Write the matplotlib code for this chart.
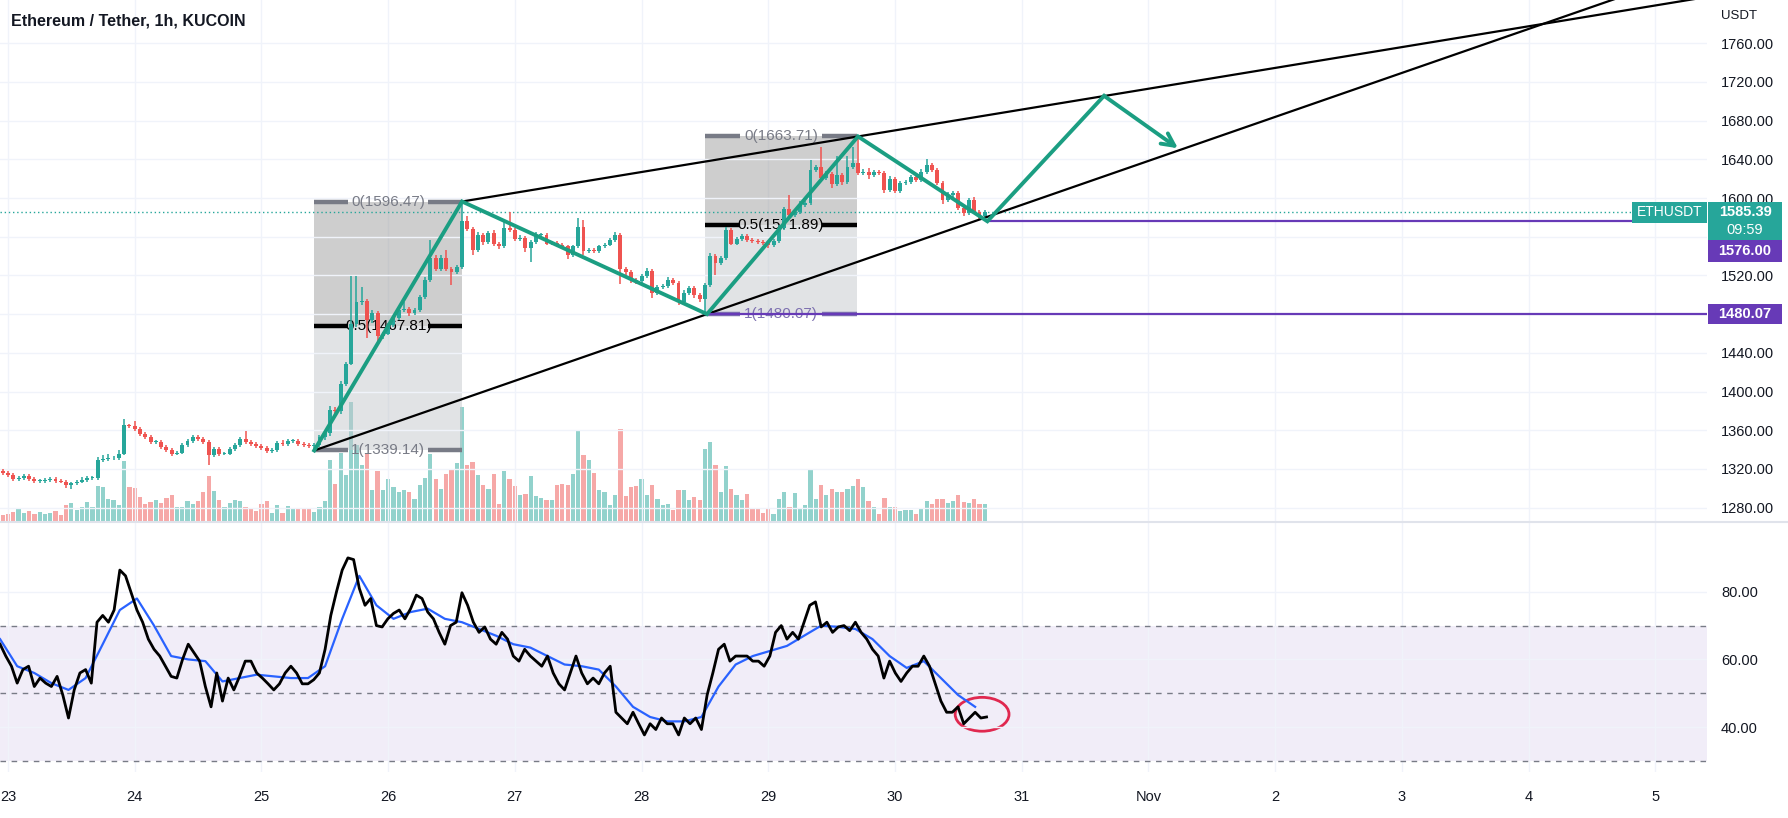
import numpy as np
import matplotlib
matplotlib.use('Agg')
import matplotlib.pyplot as plt
from matplotlib.patches import Rectangle, Ellipse

plt.rcParams['font.family'] = ['Liberation Sans', 'DejaVu Sans']

W, H = 1788, 818

# hourly candles, hour 0 = 23 Oct 00:00
first_hour = -1
first_open = 1318
closes = [1316, 1314, 1310, 1311, 1313, 1310, 1308, 1308, 1308.5, 1310,
          1308, 1307, 1303, 1305, 1307, 1309, 1311, 1311, 1329, 1330,
          1331, 1331, 1336, 1365, 1364, 1361, 1356, 1353, 1348, 1348,
          1343, 1340, 1336, 1337, 1345, 1349, 1353, 1351, 1348, 1334,
          1341, 1336, 1336, 1341, 1345, 1351, 1348, 1346, 1344, 1342,
          1339, 1340, 1347, 1346, 1349, 1349, 1346, 1345, 1344,
          1345, 1353, 1357, 1381, 1380, 1408, 1429, 1470, 1493, 1494,
          1474, 1481, 1457, 1460, 1469, 1476, 1484, 1485, 1481, 1484,
          1498, 1515, 1538, 1527, 1538, 1527, 1524, 1529, 1576, 1568,
          1546, 1562, 1555, 1564, 1553,
          1550, 1569, 1567, 1558, 1559, 1548, 1555, 1562, 1562, 1553,
          1554, 1552, 1550, 1541, 1550, 1570, 1545, 1546, 1545, 1550,
          1552, 1557, 1562, 1527, 1524, 1515, 1514, 1519, 1525, 1502,
          1508, 1509, 1515, 1512, 1493, 1502, 1507, 1500, 1496, 1510,
          1540, 1533, 1538, 1567, 1553, 1558, 1561,
          1557, 1556, 1555, 1554, 1551.5, 1556, 1568.7, 1589, 1582.5, 1586,
          1593, 1595, 1629, 1632.5, 1620.4, 1625, 1615, 1624, 1617, 1632.5,
          1636, 1625.6, 1627, 1624, 1627, 1626, 1608.4, 1619.4, 1607.7, 1615.2,
          1617, 1622, 1619, 1627.3, 1634.2, 1629, 1615.2, 1598, 1603, 1605,
          1589.4, 1585, 1598, 1586, 1581, 1585.39]
upper_wick = [2, 2, 2, 2, 2, 2, 2, 2, 2, 2,
              2, 2, 2, 2, 2, 3, 2, 2, 3, 4,
              5, 2, 4, 7, 2, 6, 2, 2, 2, 2,
              2, 2, 2, 2, 2, 2, 2, 2, 2, 2,
              2, 2, 2, 2, 2, 2, 8, 2, 2, 2,
              2, 2, 2, 3, 2, 2, 2, 2, 2,
              2, 2, 3, 4, 3, 3, 2, 49, 26, 14,
              2, 3, 2, 2, 2, 2, 3, 8, 2, 2,
              2, 3, 19, 3, 3, 8, 2, 2, 20.5, 5,
              2, 3, 2, 2, 3,
              2, 7, 17, 2, 3, 2, 2, 3, 2, 2,
              2, 2, 2, 2, 2, 9, 7, 2, 2, 2,
              2, 2, 3, 2, 2, 2, 2, 3, 3, 2,
              2, 2, 3, 2, 2, 3, 2, 2, 2, 2,
              3, 2, 2, 3.5, 2, 2, 2,
              2, 2, 2, 2, 2, 2, 3, 2, 14, 3,
              4, 2, 10, 2, 20, 3, 2, 19, 2, 10.5,
              17, 27.7, 3, 4, 2, 2, 2, 3, 2, 2,
              2, 2, 3, 3, 6, 2, 2, 2, 3, 2,
              2, 2, 2, 3, 2, 2]
lower_wick = [2, 2, 2, 2, 2, 2, 2, 2, 2, 2,
              2, 2, 3, 4, 2, 2, 2, 2, 2, 2,
              2, 2, 2, 2, 2, 2, 2, 2, 2, 2,
              2, 2, 3, 2, 2, 2, 2, 2, 2, 10,
              2, 3, 2, 2, 2, 2, 2, 2, 2, 2,
              2, 2, 2, 2, 2, 2, 2, 2, 2,
              4.9, 2, 3, 3, 4, 3, 2, 2, 3, 3,
              19, 3, 7, 3, 2, 2, 2, 2, 3, 2,
              2, 2, 2, 2, 2, 2, 14, 2, 2, 2,
              5, 2, 3, 2, 3,
              3, 2, 2, 2, 2, 4, 14, 2, 2, 2,
              2, 2, 2, 4, 2, 2, 4, 2, 2, 2,
              2, 2, 2, 15.5, 3, 3, 3, 2, 2, 5,
              2, 2, 2, 2, 3.5, 2, 2, 3, 3, 15.93,
              2, 12, 2, 2, 2, 2, 2,
              2, 2, 2, 2, 3, 2, 2, 2, 2, 2,
              2, 2, 2, 2, 2, 2, 5, 2, 3, 2,
              2, 2, 2, 4, 2, 2, 3.4, 2, 2, 2,
              2, 2, 2, 2, 2, 2, 2, 4, 2, 2,
              2, 3, 2, 2, 3.6, 2]
volume = [7.3, 8.3, 9.7, 13, 9, 10.7, 8.3, 9.7, 8, 9,
          10.7, 7.3, 16.7, 18.7, 11.7, 14.7, 19.7, 14.7, 35.7, 34.7,
          22.7, 21.7, 17.3, 60.7, 35.3, 34.3, 24.7, 18, 19.7, 22.3,
          19, 24, 26.7, 15.3, 15.3, 20.7, 18, 20.7, 29.7, 45.7,
          31.3, 22.3, 14.7, 19, 22.3, 20.7, 14.7, 13.3, 11.3, 18,
          21.3, 8.7, 17.3, 8.7, 16.3, 13.3, 12.7, 12.7, 13.3, 10,
          15, 20.7, 61.7, 38.3, 69, 47.3, 120, 76.7, 56.7, 68.3,
          31.7, 50.7, 31.7, 43.3, 35, 30, 31.7, 30, 23.3, 37.3,
          44, 68.3, 43.3, 33.3, 48.3, 51.7, 59.3, 115, 56.7, 60,
          47.3, 36.7, 33.3, 48.3,
          18.3, 50.7, 43.3, 35.7, 26.7, 28.3, 45.7, 25.7, 24.3, 22.3,
          22.3, 36.7, 38.3, 36.7, 47.7, 91.7, 67.3, 61.7, 49.3, 32.3,
          30, 16.7, 26.7, 92.7, 25.7, 35, 35.7, 42.7, 26.7, 36.7,
          23.3, 16.7, 17.7, 12.3, 31.7, 32.3, 22.3, 25, 21.7, 73.3,
          80, 56.7, 30, 55.7, 33.3, 27.3, 22.3,
          28.3, 13.7, 13.3, 9.3, 12.7, 7.7, 23.3, 30, 15.3, 28.7,
          14.3, 16.7, 52.7, 22.7, 36.7, 26.7, 33.3, 30, 30, 32.7,
          36, 42.7, 35.3, 21, 15.3, 7.7, 23.7, 15.3, 15.3, 11,
          11.7, 11.7, 7.7, 13.3, 21, 18.3, 23.3, 23.3, 19.3, 21,
          26.7, 20, 19.3, 23.3, 17.7, 17.7]

# RSI (black) and its moving average (blue), sampled along the time axis
rsi_start, rsi_step = -1.5, 1.08
rsi = [64.5, 61, 58, 53, 57, 58, 52, 54.5, 53, 52,
       55, 49.5, 42.7, 51, 56, 57, 53, 71, 73, 71,
       74.6, 86.4, 84.7, 79.7, 74.6, 71, 66, 63, 61, 58,
       55, 54.5, 60, 64.5, 62, 59.5, 52, 46, 56, 47.7,
       54.5, 51, 55, 59.5, 59.5, 56, 54.5, 52.8, 51, 52.8,
       56, 58, 56, 52.8, 52.8, 54, 56, 63, 73, 80,
       86.4, 90, 89.5, 81, 76, 78, 70, 69.6, 72, 73.6,
       74.6, 72, 75, 79, 78, 74, 72, 68, 64.5, 70,
       71, 79.7, 76, 71, 68, 69.6, 66, 64.5, 68, 66,
       61, 59.5, 63, 61, 59.5, 58, 61, 56, 52.8, 51,
       56, 61, 56, 52.8, 54.5, 52.8, 56, 58, 44.4, 42.7,
       41, 44.4, 41, 37.7, 41, 39.3, 42.7, 41, 41, 37.7,
       42.7, 41, 42.7, 39.3, 49.5, 56, 63, 64.5, 59.5, 61,
       61, 61, 59.5, 59.5, 58, 61, 68, 70, 66, 68,
       66, 71, 76, 77, 69.6, 71, 68, 69.6, 70, 68.5,
       71, 68, 66, 63, 61, 54.5, 59.5, 56, 53.5, 56,
       58, 58, 61, 58, 52.8, 47.7, 44.4, 44.4, 46, 41,
       42.7, 44.4, 42.7, 43]
ma_start, ma_step = -1.5, 3.24
rsi_ma = [66, 58, 56, 53, 51, 54.5, 64.5, 74.6, 78, 70,
          61, 60, 59.5, 53.5, 54.5, 55.5, 55, 54.5, 54.5, 58,
          72, 84.7, 76, 72, 74, 75, 72, 71, 69, 67,
          64.5, 63.5, 61, 58.5, 58, 57, 52, 46, 43, 41.7,
          41.7, 43, 52, 58.5, 61, 62.5, 64, 67, 70, 69.6,
          69, 66, 61, 57.5, 59.5, 54.5, 49.5, 46]

# drawings
fib_boxes = [(58, 86, 1596.47, 1339.14), (132, 160.8, 1663.71, 1480.07)]
zigzag_h = [58, 86, 132.4, 161, 185.5, 207.6]
zigzag_p = [1339.14, 1596.47, 1480.07, 1663.71, 1576, 1705.7]
arrow_end = (221.6, 1651.5)
upper_line = [(86, 1596.47), (161, 1663.71)]
lower_line = [(58, 1339.14), (132.4, 1480.07)]
levels = [(1576.00, 185.5), (1480.07, 132)]
last_price = 1585.39

day_labels = ['23', '24', '25', '26', '27', '28', '29', '30', '31', 'Nov', '2', '3', '4', '5']
price_ticks = np.arange(1280, 1761, 40)

up_c, dn_c = '#26a69a', '#ef5350'
purple = '#673ab7'
grid_c = '#f0f3fa'
txt_c = '#131722'
zig_c = '#1b9e82'

hours = np.arange(first_hour, first_hour + len(closes))
closes = np.array(closes)
opens = np.concatenate([[first_open], closes[:-1]])
highs = np.maximum(opens, closes) + np.array(upper_wick)
lows = np.minimum(opens, closes) - np.array(lower_wick)
up = closes >= opens
colors = np.where(up, up_c, dn_c)

fig = plt.figure(figsize=(W / 100, H / 100), dpi=100)
ax_vol = fig.add_axes([0, 1 - 522 / H, 1707 / W, 522 / H])
ax = fig.add_axes([0, 1 - 522 / H, 1707 / W, 522 / H])
ax_rsi = fig.add_axes([0, 1 - 772 / H, 1707 / W, 250 / H])
ax.patch.set_visible(False)

xlim = (-1.515, 321.8)
for a in (ax, ax_vol, ax_rsi):
    a.set_xlim(*xlim)
    for s in a.spines.values():
        s.set_visible(False)
    a.tick_params(length=0)

# volume underneath
ax_vol.bar(hours, volume, width=0.8, color=colors, alpha=0.5, linewidth=0)
ax_vol.set_xticks(np.arange(0, 313, 24))
ax_vol.set_xticklabels([])
ax_vol.set_yticks([])
ax_vol.set_ylim(0, max(volume) * 4.35)
ax_vol.grid(axis='x', color=grid_c, lw=1)

# price pane
ax.set_xticks(np.arange(0, 313, 24))
ax.set_xticklabels([])
ax.set_yticks(price_ticks)
ax.set_yticklabels(['%.2f' % p for p in price_ticks])
ax.set_ylim(1265.2, 1804.75)
ax.yaxis.tick_right()
ax.tick_params(axis='y', labelsize=10.5, labelcolor=txt_c, pad=10)
ax.grid(axis='y', color=grid_c, lw=1)

# fib boxes
for x0, x1, p0, p1 in fib_boxes:
    mid = (p0 + p1) / 2
    ax.add_patch(Rectangle((x0, mid), x1 - x0, p0 - mid, facecolor='#9e9e9e',
                           alpha=0.5, lw=0, zorder=1))
    ax.add_patch(Rectangle((x0, p1), x1 - x0, mid - p1, facecolor='#c4c8cc',
                           alpha=0.5, lw=0, zorder=1))
    seg = (x1 - x0) * 0.23
    lvl1_c = '#787b86' if p1 < 1400 else '#7d70b0'
    for val, name, c in [(p0, '0', '#787b86'), (mid, '0.5', 'black'), (p1, '1', lvl1_c)]:
        ax.plot([x0, x0 + seg], [val, val], color=c, lw=3.2, solid_capstyle='butt', zorder=2)
        ax.plot([x1 - seg, x1], [val, val], color=c, lw=3.2, solid_capstyle='butt', zorder=2)
        ax.text((x0 + x1) / 2, val, '%s(%.2f)' % (name, val), ha='center', va='center',
                color=c, fontsize=11, zorder=2)

# candles
ax.vlines(hours, lows, highs, colors=colors, lw=1.1, zorder=3)
body = np.maximum(np.abs(closes - opens), 0.7)
ax.bar(hours, body, bottom=np.minimum(opens, closes), width=0.74, color=colors,
       linewidth=0, zorder=3)

# trend lines
for (ha, pa), (hb, pb) in (upper_line, lower_line):
    slope = (pb - pa) / (hb - ha)
    ax.plot([ha, 340], [pa, pa + slope * (340 - ha)], color='black', lw=1.6, zorder=4)

# levels and price line
for p, start in levels:
    ax.plot([start, xlim[1]], [p, p], color=purple, lw=1.6, zorder=4)
ax.axhline(last_price, color=up_c, ls=(0, (1, 2)), lw=1, zorder=2)

# zigzag with arrow
ax.plot(zigzag_h, zigzag_p, color=zig_c, lw=2.8, zorder=5, solid_joinstyle='miter')
ax.annotate('', xy=arrow_end, xytext=(zigzag_h[-1], zigzag_p[-1]),
            arrowprops=dict(arrowstyle='->,head_length=0.9,head_width=0.45',
                            color=zig_c, lw=2.8, shrinkA=0, shrinkB=0), zorder=5)

# RSI pane
ax_rsi.set_ylim(26.75, 100.6)
ax_rsi.axhspan(30, 70, color='#7e57c2', alpha=0.1, lw=0)
for lv in (70, 50, 30):
    ax_rsi.axhline(lv, color='#787b86', ls=(0, (4, 4)), lw=1)
rsi_t = rsi_start + np.arange(len(rsi)) * rsi_step
ma_t = ma_start + np.arange(len(rsi_ma)) * ma_step
ax_rsi.plot(ma_t, rsi_ma, color='#2962ff', lw=1.6)
ax_rsi.plot(rsi_t, rsi, color='black', lw=2)
ax_rsi.add_patch(Ellipse((184.5, 43.8), 10.2, 10, fill=False, edgecolor='#e0284f', lw=2))
ax_rsi.set_yticks([40, 60, 80])
ax_rsi.set_yticklabels(['40.00', '60.00', '80.00'])
ax_rsi.set_ylim(26.75, 100.6)
ax_rsi.yaxis.tick_right()
ax_rsi.tick_params(axis='y', labelsize=10.5, labelcolor=txt_c, pad=10)
ax_rsi.set_xticks(np.arange(0, 313, 24))
ax_rsi.set_xticklabels(day_labels)
ax_rsi.set_xlim(*xlim)
ax_rsi.tick_params(axis='x', labelsize=10.5, labelcolor=txt_c, pad=13)
ax_rsi.grid(color=grid_c, lw=1)

# pane separator
fig.add_artist(plt.Line2D([0, 1], [1 - 522 / H, 1 - 522 / H], color='#e0e3eb', lw=1.5,
                          transform=fig.transFigure))

fig.text(11 / W, 1 - 21 / H, 'Ethereum / Tether, 1h, KUCOIN', fontsize=11.5,
         fontweight='bold', color=txt_c, va='center')
fig.text(1721 / W, 1 - 16 / H, 'USDT', fontsize=9.5, color=txt_c, va='center')


def ypix(price):
    return H - ax.transData.transform((0, price))[1]


def tag(x0, y0, x1, y1, color):
    fig.add_artist(Rectangle((x0 / W, 1 - y1 / H), (x1 - x0) / W, (y1 - y0) / H,
                             transform=fig.transFigure, facecolor=color, lw=0, zorder=5))


def tag_text(x, y, s, **kw):
    fig.text(x / W, 1 - y / H, s, ha='center', va='center', color='white', zorder=6, **kw)


yc = ypix(last_price)
tag(1708, yc - 10, 1782, yc + 28, up_c)
tag_text(1745, yc, '%.2f' % last_price, fontsize=10.5, fontweight='bold')
tag_text(1745, yc + 18, '09:59', fontsize=10.5)
tag(1632, yc - 10, 1707, yc + 11, up_c)
tag_text(1669.5, yc, 'ETHUSDT', fontsize=10)
tag(1708, yc + 28, 1782, yc + 50, purple)
tag_text(1745, yc + 39, '%.2f' % levels[0][0], fontsize=10.5, fontweight='bold')
yp = ypix(levels[1][0])
tag(1708, yp - 10, 1782, yp + 10, purple)
tag_text(1745, yp, '%.2f' % levels[1][0], fontsize=10.5, fontweight='bold')

fig.savefig('out.png', dpi=100)
